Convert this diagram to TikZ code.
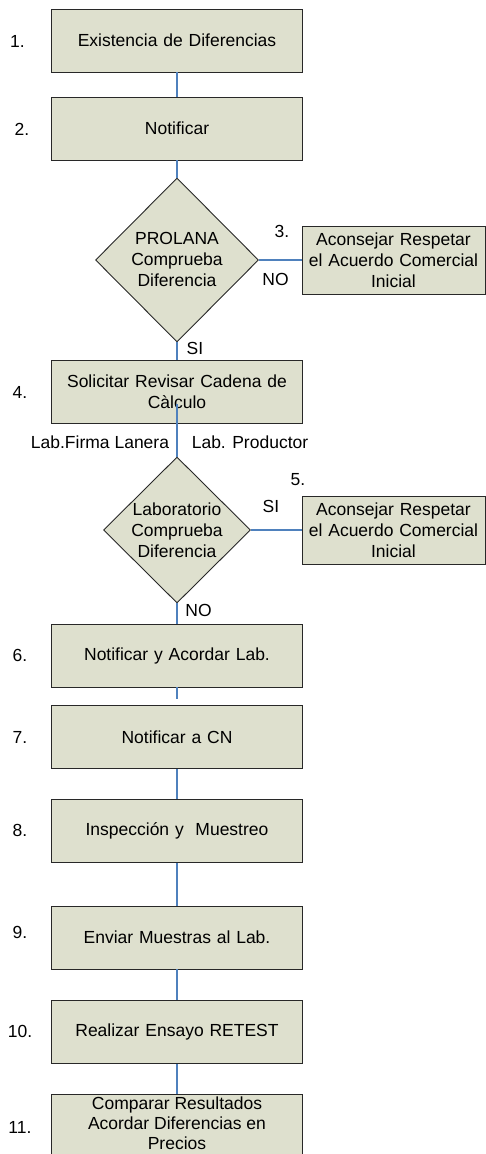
\documentclass[tikz,border=0pt]{standalone}
\usepackage{fontspec}
\setmainfont{Liberation Sans}
\usetikzlibrary{shapes.geometric}
\definecolor{boxfill}{RGB}{222,224,206}
\definecolor{linkblue}{RGB}{79,129,189}
\definecolor{edgecol}{RGB}{40,40,40}
\begin{document}
\begin{tikzpicture}[x=1pt,y=-1pt,
  font=\fontsize{17.5}{21}\selectfont,
  stepbox/.style={draw=edgecol, fill=boxfill, line width=0.9pt, minimum width=251pt, minimum height=63pt, inner sep=0pt, align=center, text width=245pt},
  sidebox/.style={stepbox, minimum width=183pt, minimum height=68pt, text width=180pt},
  decision/.style={diamond, draw=edgecol, fill=boxfill, line width=0.9pt, inner sep=0pt},
  link/.style={draw=linkblue, line width=1.2pt},
  lbl/.style={inner sep=0pt}]
\useasboundingbox (0,0) rectangle (486,1154);
\clip (0,0) rectangle (486,1154);

% main boxes
\node[stepbox] (b1) at (177,40.5) {Existencia de Diferencias};
\node[stepbox] (b2) at (177,128.5) {Notificar};
\node[decision, minimum width=163pt, minimum height=164pt] (d1) at (177,260) {};
\node[align=center, inner sep=0pt] (d1t) at (177,259) {PROLANA\\Comprueba\\Diferencia};
\node[sidebox] (b3) at (393.5,260) {Aconsejar Respetar\\el Acuerdo Comercial\\Inicial};
\node[stepbox] (b4) at (177,392) {Solicitar Revisar Cadena de\\Càlculo};
\node[decision, minimum width=147pt, minimum height=146pt] (d2) at (177,530) {};
\node[align=center, inner sep=0pt] (d2t) at (177,530) {Laboratorio\\Comprueba\\Diferencia};
\node[sidebox] (b5) at (393.5,530) {Aconsejar Respetar\\el Acuerdo Comercial\\Inicial};
\node[stepbox] (b6) at (177,655.5) {Notificar y Acordar Lab.};
\node[stepbox] (b7) at (177,737) {Notificar a CN};
\node[stepbox] (b8) at (177,831) {Inspección y\ \ Muestreo};
\node[stepbox] (b9) at (177,937.5) {Enviar Muestras al Lab.};
\node[stepbox] (b10) at (177,1032) {Realizar Ensayo RETEST};
\node[stepbox, minimum height=66pt, font=\fontsize{17.5}{20}\selectfont] (b11) at (177,1127) {};
\node[align=center, inner sep=0pt, font=\fontsize{17.5}{20}\selectfont] (b11t) at (177,1123.5) {Comparar Resultados\\Acordar Diferencias en\\Precios};

\coordinate (c4) at (177,404);
\coordinate (c6) at (177,699);

% connectors
\draw[link] (b1.south) -- (b2.north);
\draw[link] (b2.south) -- (d1.north);
\draw[link] (d1.east) -- (b3.west);
\draw[link] (d1.south) -- (b4.north);
\draw[link] (c4) -- (d2.north);
\draw[link] (d2.east) -- (b5.west);
\draw[link] (d2.south) -- (b6.north);
\draw[link] (b6.south) -- (c6);
\draw[link] (b7.south) -- (b8.north);
\draw[link] (b8.south) -- (b9.north);
\draw[link] (b9.south) -- (b10.north);
\draw[link] (b10.south) -- (b11.north);

% step numbers
\node[lbl] (n1) at (17.5,41) {1.};
\node[lbl] (n2) at (22,129) {2.};
\node[lbl] (n3) at (282,231) {3.};
\node[lbl] (n4) at (20,392) {4.};
\node[lbl] (n5) at (298,480) {5.};
\node[lbl] (n6) at (20,655) {6.};
\node[lbl] (n7) at (20,737) {7.};
\node[lbl] (n8) at (20,830) {8.};
\node[lbl] (n9) at (20,932) {9.};
\node[lbl] (n10) at (20,1031) {10.};
\node[lbl] (n11) at (20,1127) {11.};

% branch labels
\node[lbl] (no1) at (275.5,279) {NO};
\node[lbl] (si1) at (195,348) {SI};
\node[lbl] (lf) at (100,442) {Lab.Firma Lanera};
\node[lbl] (lp) at (250,442) {Lab. Productor};
\node[lbl] (si2) at (271,506) {SI};
\node[lbl] (no2) at (198.5,610) {NO};
\end{tikzpicture}
\end{document}
